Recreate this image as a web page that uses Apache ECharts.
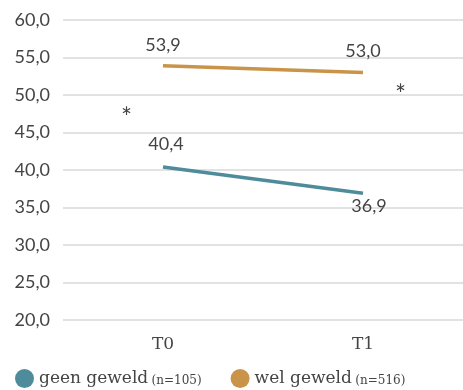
<!DOCTYPE html>
<html><head><meta charset="utf-8">
<script src="https://cdn.jsdelivr.net/npm/echarts@6/dist/echarts.min.js"></script>
<style>html,body{margin:0;padding:0;background:#fff}#c{width:463px;height:390px}</style>
</head><body><div id="c"></div>
<script>
const categories = ['T0', 'T1'];
const geenGeweld = [40.4, 36.9];
const welGeweld = [53.9, 53.0];
const seriesNames = ['geen geweld', 'wel geweld'];
const seriesN = ['(n=105)', '(n=516)'];
const yMin = 20, yMax = 60, yStep = 5;

const fmt = v => v.toFixed(1).replace('.', ',');
const chart = echarts.init(document.getElementById('c'));
const teal = '#4f8c9b', gold = '#c9944a';
const lbl = {show: true, fontFamily: 'Lato', fontSize: 18, color: '#444', formatter: p => fmt(p.value)};
chart.setOption({
  animation: false,
  grid: {left: 63, right: -7, top: 20, bottom: 70},
  xAxis: {
    type: 'category', data: categories, boundaryGap: true,
    axisLine: {show: false}, axisTick: {show: false},
    axisLabel: {color: '#444', fontFamily: 'DejaVu Serif', fontSize: 17, margin: 16}
  },
  yAxis: {
    type: 'value', min: yMin, max: yMax, interval: yStep,
    axisLine: {show: false}, axisTick: {show: false},
    axisLabel: {color: '#444', fontFamily: 'Lato', fontSize: 18, margin: 13, formatter: fmt},
    splitLine: {lineStyle: {color: '#d9d9d9', width: 1.5}}
  },
  legend: {
    left: 10, bottom: -3, itemWidth: 19, itemHeight: 19, itemGap: 29, icon: 'circle',
    data: seriesNames,
    formatter: name => '{a|' + name + '} {b|' + seriesN[seriesNames.indexOf(name)] + '}',
    textStyle: {
      rich: {
        a: {fontFamily: 'DejaVu Serif', fontSize: 17, color: '#444'},
        b: {fontFamily: 'DejaVu Serif', fontSize: 12, color: '#444', padding: [4, 0, 0, 0]}
      }
    }
  },
  series: [
    {
      name: seriesNames[0], type: 'line', symbol: 'circle', symbolSize: 0.1,
      lineStyle: {color: teal, width: 3.5}, itemStyle: {color: teal},
      label: lbl,
      data: [
        {value: geenGeweld[0], label: {position: 'top', distance: 14, offset: [3, 0]}},
        {value: geenGeweld[1], label: {position: 'bottom', distance: 4, offset: [6, 0]}}
      ]
    },
    {
      name: seriesNames[1], type: 'line', symbol: 'circle', symbolSize: 0.1,
      lineStyle: {color: gold, width: 3.5}, itemStyle: {color: gold},
      label: Object.assign({}, lbl, {position: 'top', distance: 12}),
      data: welGeweld
    }
  ],
  graphic: [
    {type: 'text', left: 121, top: 106, style: {text: '*', fontFamily: 'Lato', fontSize: 26, fill: '#444'}},
    {type: 'text', left: 395, top: 83, style: {text: '*', fontFamily: 'Lato', fontSize: 26, fill: '#444'}}
  ]
});
</script></body></html>
